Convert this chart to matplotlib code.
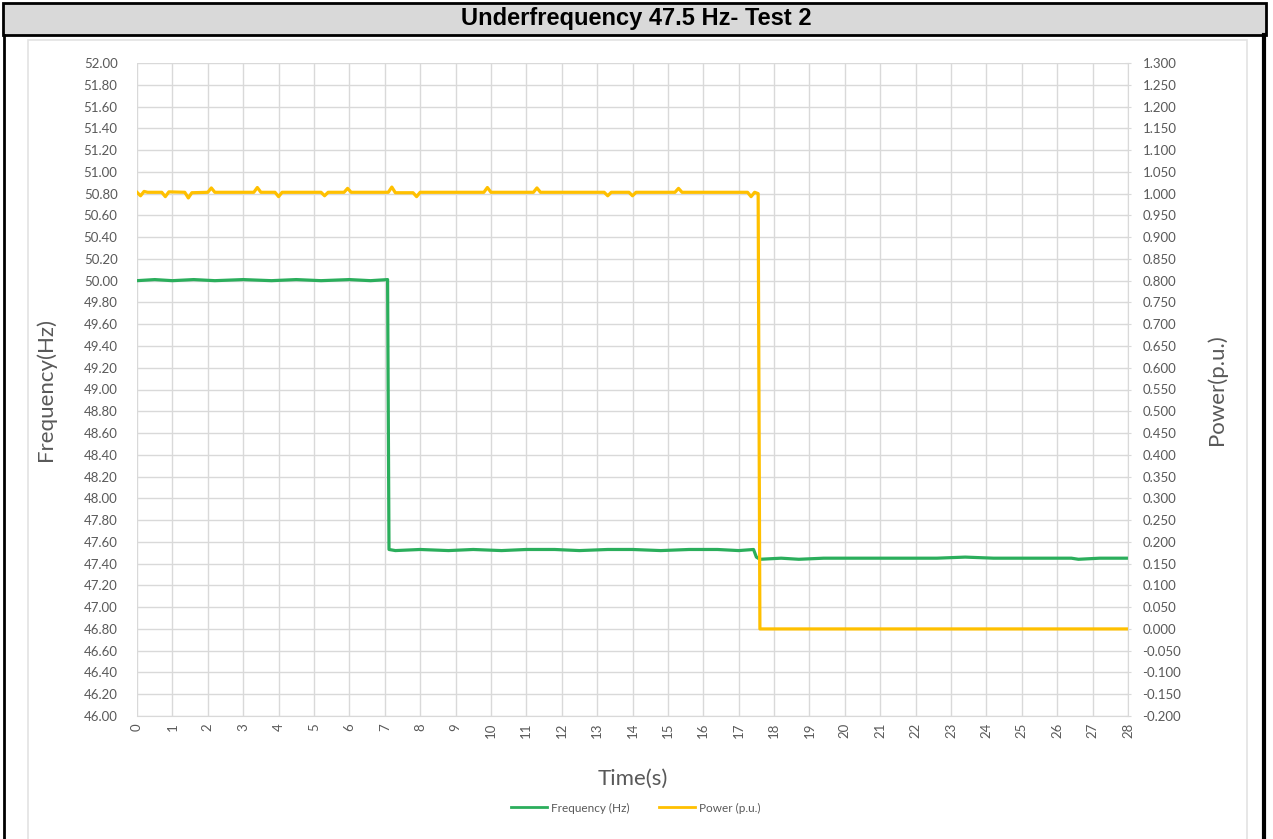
import matplotlib
matplotlib.use('Agg')
import matplotlib.pyplot as plt
from matplotlib.patches import Rectangle
from matplotlib.lines import Line2D
import numpy as np

# Frequency trace (Hz)
freq_t = [0, 0.5, 1.0, 1.6, 2.2, 3.0, 3.8, 4.5, 5.2, 6.0, 6.6, 7.08,
          7.12, 7.3, 8.0, 8.8, 9.5, 10.3, 11.0, 11.8, 12.5, 13.3, 14.0, 14.8,
          15.6, 16.4, 17.0, 17.42, 17.5, 17.6, 18.2, 18.7, 19.4, 20.2, 21.0,
          21.8, 22.6, 23.4, 24.2, 25.0, 25.8, 26.4, 26.6, 27.2, 28.0]
freq_v = [50.00, 50.01, 50.00, 50.01, 50.00, 50.01, 50.00, 50.01, 50.00, 50.01, 50.00, 50.01,
          47.53, 47.52, 47.53, 47.52, 47.53, 47.52, 47.53, 47.53, 47.52, 47.53, 47.53, 47.52,
          47.53, 47.53, 47.52, 47.53, 47.46, 47.44, 47.45, 47.44, 47.45, 47.45, 47.45,
          47.45, 47.45, 47.46, 47.45, 47.45, 47.45, 47.45, 47.44, 47.45, 47.45]

# Power trace (p.u.)
power_t = [0, 0.1, 0.2, 0.3, 0.7, 0.8, 0.9, 1.35, 1.45, 1.55, 2.0, 2.1, 2.2,
           3.3, 3.4, 3.5, 3.9, 4.0, 4.1, 5.2, 5.3, 5.4, 5.85, 5.95, 6.05,
           7.1, 7.2, 7.3, 7.8, 7.9, 8.0, 9.8, 9.9, 10.0, 11.2, 11.3, 11.4,
           13.2, 13.3, 13.4, 13.9, 14.0, 14.1, 15.2, 15.3, 15.4,
           17.25, 17.35, 17.45, 17.55, 17.6, 18.0, 28.0]
power_v = [1.003, 0.995, 1.005, 1.003, 1.003, 0.993, 1.004, 1.003, 0.990, 1.002, 1.003, 1.013, 1.003,
           1.003, 1.014, 1.003, 1.003, 0.993, 1.003, 1.003, 0.995, 1.003, 1.003, 1.012, 1.003,
           1.003, 1.015, 1.002, 1.002, 0.993, 1.003, 1.003, 1.014, 1.003, 1.003, 1.013, 1.003,
           1.003, 0.995, 1.003, 1.003, 0.995, 1.003, 1.003, 1.012, 1.003,
           1.003, 0.993, 1.003, 1.000, 0.000, 0.000, 0.000]

title = 'Underfrequency 47.5 Hz- Test 2'
freq_ticks = np.round(np.arange(46.0, 52.01, 0.2), 2)
power_ticks = np.round(np.arange(-0.2, 1.301, 0.05), 3)
time_ticks = list(range(0, 29))

W, H = 1273, 839
green = '#2bae5c'
yellow = '#ffc000'
grid_c = '#d9d9d9'
txt_c = '#595959'
font = ['Lato', 'DejaVu Sans']

fig = plt.figure(figsize=(W / 100, H / 100), dpi=100)

def fx(px):
    return px / W

def fy(py):
    return 1 - py / H

# table-like frame around the chart
fig.add_artist(Rectangle((fx(3), fy(35)), fx(1263), 32 / H, facecolor='#d9d9d9',
                         edgecolor='black', linewidth=2, transform=fig.transFigure))
fig.add_artist(Line2D([fx(4), fx(4)], [fy(35), 0], color='black', lw=2))
fig.add_artist(Line2D([fx(1264), fx(1264)], [fy(35), 0], color='black', lw=3))
fig.add_artist(Rectangle((fx(28), fy(845)), fx(1219), 805 / H, facecolor='none',
                         edgecolor='#e3e3e3', linewidth=1.2, transform=fig.transFigure))
fig.text(fx(636), fy(19), title, ha='center', va='center', fontsize=17,
         fontweight='bold', family=['Liberation Sans', 'DejaVu Sans'])

ax = fig.add_axes([fx(137), fy(716), fx(1128 - 137), (716 - 63) / H])
ax2 = ax.twinx()

ax.plot(freq_t, freq_v, color=green, lw=2.3, label='Frequency (Hz)')
ax2.plot(power_t, power_v, color=yellow, lw=2.3, label='Power (p.u.)')

ax.set_xlim(0, 28)
ax.set_ylim(46, 52)
ax2.set_ylim(-0.2, 1.3)
ax.set_xticks(time_ticks)
ax.set_xticklabels([str(t) for t in time_ticks], rotation=90, family=font)
ax.set_yticks(freq_ticks)
ax.set_yticklabels(['%.2f' % v for v in freq_ticks], family=font)
ax2.set_yticks(power_ticks)
ax2.set_yticklabels(['%.3f' % (0.0 if abs(v) < 1e-9 else v) for v in power_ticks], family=font)

ax.grid(True, color=grid_c, lw=1)
ax.set_axisbelow(True)
for a in (ax, ax2):
    for s in a.spines.values():
        s.set_visible(False)
ax2.spines['right'].set_visible(True)
ax2.spines['right'].set_color(grid_c)
ax.spines['bottom'].set_visible(True)
ax.spines['bottom'].set_color(grid_c)
ax.tick_params(axis='both', length=0, labelsize=9.5, labelcolor=txt_c)
ax.tick_params(axis='y', pad=14)
ax.tick_params(axis='x', pad=5)
ax2.tick_params(axis='y', length=5, direction='inout', color=grid_c,
                labelsize=9.5, labelcolor=txt_c, pad=8)

ax.set_ylabel('Frequency(Hz)', fontsize=16, color=txt_c, family=font, labelpad=20)
ax2.set_ylabel('Power(p.u.)', fontsize=16, color=txt_c, family=font, labelpad=18)
ax.set_xlabel('Time(s)', fontsize=16, color=txt_c, family=font, labelpad=22)

handles = [Line2D([], [], color=green, lw=2), Line2D([], [], color=yellow, lw=2)]
fig.legend(handles, ['Frequency (Hz)', 'Power (p.u.)'], loc='center',
           bbox_to_anchor=(fx(636), fy(808)), ncol=2, frameon=False,
           prop={'family': font, 'size': 8.5}, labelcolor=txt_c,
           handlelength=3, columnspacing=2.5, handletextpad=0.4)

fig.savefig('out.png', dpi=100)
